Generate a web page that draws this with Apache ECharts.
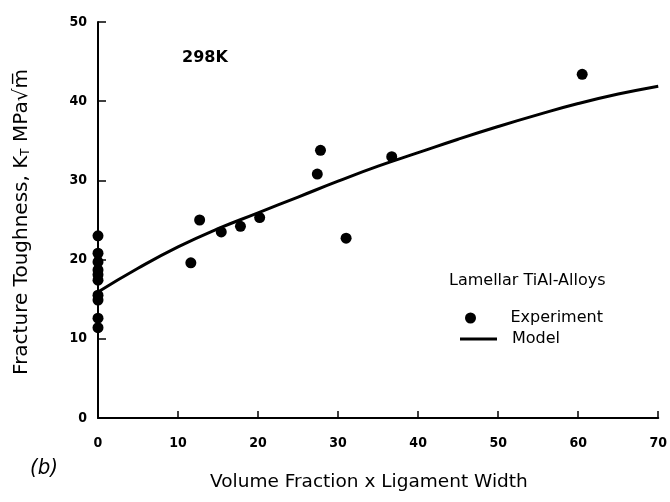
<!DOCTYPE html>
<html>
<head>
<meta charset="utf-8">
<script src="https://cdn.jsdelivr.net/npm/echarts@6/dist/echarts.min.js"></script>
<style>
  html, body { margin: 0; padding: 0; background: #fff; }
  #main { width: 670px; height: 502px; }
</style>
</head>
<body>
<div id="main"></div>
<script>
// measured points (x = volume fraction x ligament width, y = K_T)
var expX = [0, 0, 0, 0, 0, 0, 0, 0, 0, 0, 11.6, 12.7, 15.4, 17.8, 20.2, 27.4, 27.8, 31.0, 36.7, 60.5];
var expY = [23.0, 20.8, 19.7, 18.7, 18.1, 17.4, 15.5, 14.9, 12.6, 11.4, 19.6, 25.0, 23.5, 24.2, 25.3, 30.8, 33.8, 22.7, 33.0, 43.4];

// model curve
var modelX = [0, 5, 10, 15, 20, 25, 30, 35, 40, 45, 50, 55, 60, 65, 70];
var modelY = [15.9, 18.9, 21.6, 23.9, 25.9, 27.9, 29.9, 31.8, 33.5, 35.2, 36.8, 38.3, 39.7, 40.9, 41.9];

var xTicks = [0, 10, 20, 30, 40, 50, 60, 70];
var yTicks = [0, 10, 20, 30, 40, 50];

var font = "'DejaVu Sans Condensed', 'Liberation Sans', Arial, sans-serif";
var wide = "'DejaVu Sans', 'Liberation Sans', Arial, sans-serif";

var chart = echarts.init(document.getElementById('main'));

var option = {
    backgroundColor: '#fff',
    animation: false,
    grid: { left: 98, right: 6, top: 22, bottom: 84 },
    xAxis: {
        type: 'value',
        min: 0, max: 70, interval: 10,
        splitLine: { show: false },
        axisLine: { lineStyle: { color: '#000', width: 2 } },
        axisTick: { inside: true, length: 7, lineStyle: { color: '#000', width: 1.5 } },
        axisLabel: {
            color: '#000', fontFamily: font, fontWeight: 'bold', fontSize: 14, margin: 18,
            formatter: function (v) { return xTicks.indexOf(v) >= 0 ? v : ''; }
        }
    },
    yAxis: {
        type: 'value',
        min: 0, max: 50, interval: 10,
        splitLine: { show: false },
        axisLine: { lineStyle: { color: '#000', width: 2 } },
        axisTick: { inside: true, length: 8, lineStyle: { color: '#000', width: 1.5 } },
        axisLabel: {
            color: '#000', fontFamily: font, fontWeight: 'bold', fontSize: 14, margin: 11,
            formatter: function (v) { return yTicks.indexOf(v) >= 0 ? v : ''; }
        }
    },
    legend: [
        {
            left: 460, top: 305,
            itemWidth: 26, itemHeight: 11,
            textStyle: { color: '#000', fontFamily: wide, fontSize: 16, padding: [0, 0, 0, 22] },
            data: [{ name: 'Experiment', icon: 'circle', itemStyle: { color: '#000', opacity: 1 } }]
        },
        {
            left: 455, top: 326,
            itemWidth: 37, itemHeight: 3,
            textStyle: { color: '#000', fontFamily: wide, fontSize: 16, padding: [0, 0, 0, 10] },
            data: [{ name: 'Model', icon: 'rect', itemStyle: { color: '#000' } }]
        }
    ],
    graphic: [
        { type: 'text', left: 182, top: 50, style: { text: '298K', font: 'bold 16px ' + wide, fill: '#000' } },
        { type: 'text', left: 449, top: 273, style: { text: 'Lamellar TiAl-Alloys', font: '16px ' + wide, fill: '#000' } },
        { type: 'text', left: 210, top: 473, style: { text: 'Volume Fraction x Ligament Width', font: '18.5px ' + wide, fill: '#000' } },
        { type: 'text', left: 30, top: 457, style: { text: '(b)', font: 'italic 22px ' + font, fill: '#000' } },
        {
            type: 'text', x: 22, y: 222, rotation: Math.PI / 2,
            style: {
                text: 'Fracture Toughness, K{s|T} MPa√m̅',
                rich: { s: { fontSize: 12, fontFamily: wide, verticalAlign: 'bottom', padding: [8, 0, 0, 0] } },
                font: '20px ' + wide, fill: '#000',
                align: 'center', verticalAlign: 'middle'
            }
        }
    ],
    series: [
        {
            name: 'Experiment',
            type: 'scatter',
            symbol: 'circle',
            symbolSize: 11,
            itemStyle: { color: '#000', opacity: 1 },
            data: expX.map(function (x, i) { return [x, expY[i]]; })
        },
        {
            name: 'Model',
            type: 'line',
            smooth: true,
            symbol: 'none',
            lineStyle: { color: '#000', width: 3 },
            itemStyle: { color: '#000' },
            data: modelX.map(function (x, i) { return [x, modelY[i]]; })
        }
    ]
};

chart.setOption(option);
</script>
</body>
</html>
